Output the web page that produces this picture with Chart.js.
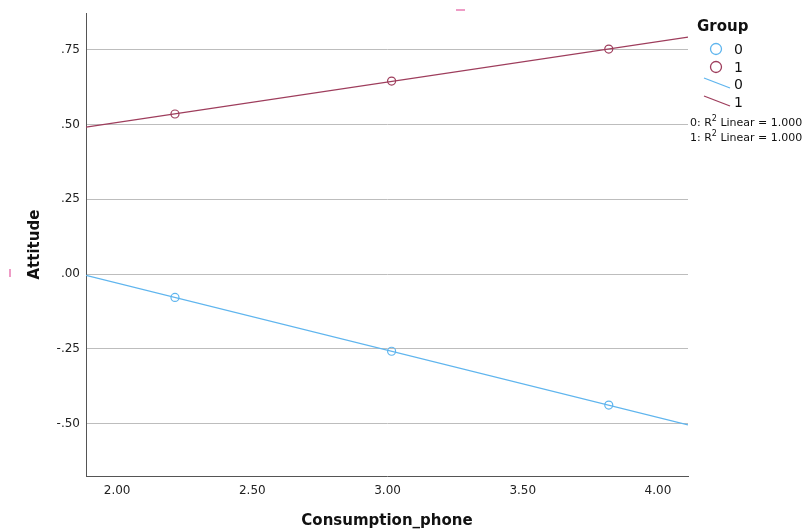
<!DOCTYPE html>
<html>
<head>
<meta charset="utf-8">
<script src="https://cdn.jsdelivr.net/npm/chart.js@4.4.1/dist/chart.umd.min.js"></script>
<style>
  html, body { margin: 0; padding: 0; background: #fff; }
  #wrap { width: 807px; height: 532px; position: relative; }
</style>
</head>
<body>
<div id="wrap"><canvas id="c" width="807" height="532"></canvas></div>
<script>
// Observed points per group
const groupLabels = ['0', '1'];
const consumption0 = [2.214, 3.015, 3.818];
const attitude0 = [-0.078, -0.258, -0.438];
const consumption1 = [2.214, 3.015, 3.818];
const attitude1 = [0.535, 0.645, 0.752];

// Axis ranges and tick values
const xRange = [1.885, 4.111];
const yRange = [-0.675, 0.872];
const xTicks = [2.0, 2.5, 3.0, 3.5, 4.0];
const yTicks = [-0.5, -0.25, 0, 0.25, 0.5, 0.75];

const colors = ['#5fb5ee', '#9e3d5c'];

// Least-squares fit line evaluated across the x range
function fitLine(xs, ys) {
  const n = xs.length;
  const mx = xs.reduce((a, b) => a + b, 0) / n;
  const my = ys.reduce((a, b) => a + b, 0) / n;
  let sxy = 0, sxx = 0;
  for (let i = 0; i < n; i++) { sxy += (xs[i] - mx) * (ys[i] - my); sxx += (xs[i] - mx) ** 2; }
  const b = sxy / sxx, a = my - b * mx;
  return xRange.map(x => ({ x, y: a + b * x }));
}
const pts = (xs, ys) => xs.map((x, i) => ({ x, y: ys[i] }));

function fmt(v) {
  let s = Math.abs(v).toFixed(2).replace(/^0\./, '.');
  return (v < -1e-9 ? '-' : '') + s;
}

const FONT = '"DejaVu Sans", "Liberation Sans", sans-serif';

// Legend, fit statistics and small marks at the margins
const extras = {
  id: 'extras',
  afterDraw(chart) {
    const ctx = chart.ctx;
    ctx.save();
    ctx.fillStyle = '#111';
    ctx.font = 'bold 15px ' + FONT;
    ctx.textBaseline = 'middle';
    ctx.textAlign = 'left';
    ctx.fillText('Group', 697, 27);

    ctx.font = '14px ' + FONT;
    ctx.lineWidth = 1.3;
    // marker entries
    [49, 67].forEach((y, i) => {
      ctx.strokeStyle = colors[i];
      ctx.beginPath(); ctx.arc(716, y, 5.5, 0, Math.PI * 2); ctx.stroke();
      ctx.fillStyle = '#111';
      ctx.fillText(groupLabels[i], 734, y + 1);
    });
    // line entries
    [[78, 88], [96, 106]].forEach((r, i) => {
      ctx.strokeStyle = colors[i];
      ctx.beginPath(); ctx.moveTo(704, r[0]); ctx.lineTo(730, r[1]); ctx.stroke();
      ctx.fillStyle = '#111';
      ctx.fillText(groupLabels[i], 734, r[1] - 3);
    });

    // R² lines
    const rows = [[groupLabels[0], 123], [groupLabels[1], 138]];
    rows.forEach(([g, y]) => {
      let x = 690;
      ctx.font = '11px ' + FONT;
      ctx.fillStyle = '#111';
      const p1 = g + ': R';
      ctx.fillText(p1, x, y); x += ctx.measureText(p1).width;
      ctx.font = '8px ' + FONT;
      ctx.fillText('2', x, y - 4); x += ctx.measureText('2').width;
      ctx.font = '11px ' + FONT;
      ctx.fillText(' Linear = 1.000', x, y);
    });

    ctx.fillStyle = '#ee9cc6';
    ctx.fillRect(456, 9, 9, 2);
    ctx.fillRect(9, 269, 2, 8);
    ctx.restore();
  }
};

new Chart(document.getElementById('c'), {
  type: 'scatter',
  data: {
    datasets: [
      { label: '0', data: pts(consumption0, attitude0), borderColor: colors[0], backgroundColor: 'rgba(0,0,0,0)',
        pointRadius: 4, borderWidth: 1.2, showLine: false, order: 1 },
      { label: '1', data: pts(consumption1, attitude1), borderColor: colors[1], backgroundColor: 'rgba(0,0,0,0)',
        pointRadius: 4, borderWidth: 1.2, showLine: false, order: 1 },
      { label: '0 fit', data: fitLine(consumption0, attitude0), borderColor: colors[0], pointRadius: 0,
        borderWidth: 1.2, showLine: true, order: 2 },
      { label: '1 fit', data: fitLine(consumption1, attitude1), borderColor: colors[1], pointRadius: 0,
        borderWidth: 1.2, showLine: true, order: 2 }
    ]
  },
  options: {
    responsive: false,
    animation: false,
    layout: { padding: { top: 12, right: 119, left: 0, bottom: 0 } },
    plugins: { legend: { display: false }, tooltip: { enabled: false } },
    scales: {
      x: {
        type: 'linear', min: xRange[0], max: xRange[1],
        afterBuildTicks: s => { s.ticks = xTicks.map(v => ({ value: v })); },
        afterFit: s => { s.height = 56; },
        grid: { display: false },
        border: { display: true, color: '#555', width: 1 },
        ticks: { callback: v => v.toFixed(2), color: '#222', font: { family: FONT, size: 12 }, padding: 0, maxRotation: 0 },
        title: { display: true, text: 'Consumption_phone', color: '#111', font: { family: FONT, size: 15, weight: 'bold' }, padding: { top: 0, bottom: 2 } }
      },
      y: {
        type: 'linear', min: yRange[0], max: yRange[1],
        afterBuildTicks: s => { s.ticks = yTicks.map(v => ({ value: v })); },
        afterFit: s => { s.width = 86; },
        grid: { display: true, color: '#bdbdbd', lineWidth: 1, drawTicks: false },
        border: { display: true, color: '#555', width: 1 },
        ticks: { callback: v => fmt(v), color: '#222', font: { family: FONT, size: 12 }, padding: 6 },
        title: { display: true, text: 'Attitude', color: '#111', font: { family: FONT, size: 15, weight: 'bold' }, padding: { top: 26, bottom: 0 } }
      }
    }
  },
  plugins: [extras]
});
</script>
</body>
</html>
